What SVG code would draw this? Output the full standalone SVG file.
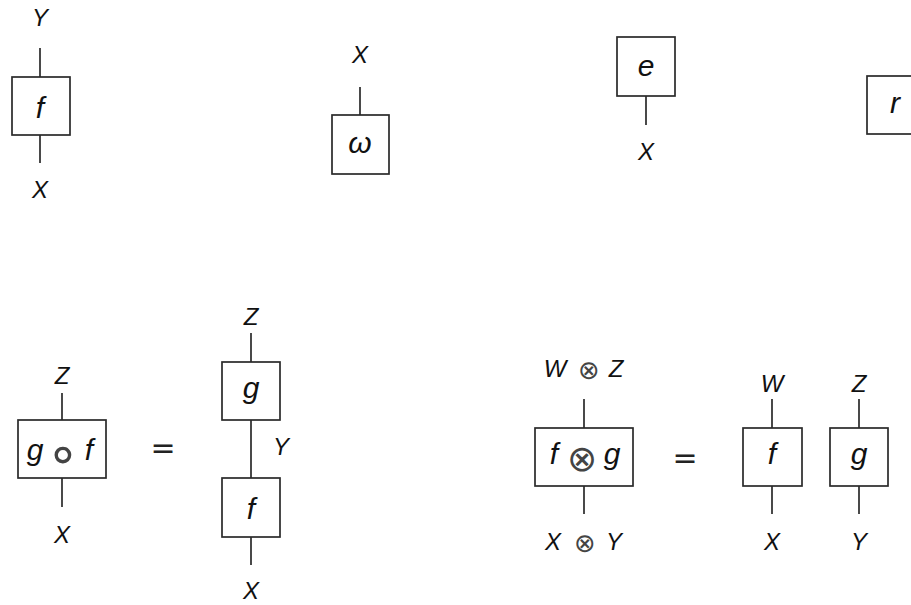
<svg xmlns="http://www.w3.org/2000/svg" width="911" height="605" viewBox="0 0 911 605">
<style>
.box{fill:#fff;stroke:#2a2a2a;stroke-width:1.7}
.w{stroke:#2a2a2a;stroke-width:1.7;fill:none}
.lb{font-family:"Liberation Sans",Arial,sans-serif;font-style:italic;font-size:24px;fill:#111;text-anchor:middle}
.bl{font-family:"Liberation Sans",Arial,sans-serif;font-style:italic;font-size:30px;fill:#111;text-anchor:middle}
.op{font-family:"DejaVu Sans",sans-serif;font-style:normal;fill:#444;text-anchor:middle}
.eq{font-family:"DejaVu Sans",sans-serif;font-size:30px;fill:#222;text-anchor:middle}
</style>
<rect width="911" height="605" fill="#fff"/>
<g id="connectors">
<line class="w" x1="40" y1="48" x2="40" y2="77"/>
<line class="w" x1="40" y1="135" x2="40" y2="163"/>
<line class="w" x1="360" y1="87" x2="360" y2="115"/>
<line class="w" x1="646" y1="96" x2="646" y2="125"/>
<line class="w" x1="62" y1="393" x2="62" y2="420"/>
<line class="w" x1="62" y1="478" x2="62" y2="507"/>
<line class="w" x1="251" y1="333" x2="251" y2="362"/>
<line class="w" x1="251" y1="420" x2="251" y2="478"/>
<line class="w" x1="251" y1="537" x2="251" y2="565"/>
<line class="w" x1="584" y1="399" x2="584" y2="428"/>
<line class="w" x1="584" y1="486" x2="584" y2="514"/>
<line class="w" x1="772" y1="399" x2="772" y2="428"/>
<line class="w" x1="772" y1="486" x2="772" y2="514"/>
<line class="w" x1="859" y1="399" x2="859" y2="428"/>
<line class="w" x1="859" y1="486" x2="859" y2="514"/>
</g>
<g id="f1">
<rect class="box" x="12" y="77" width="58" height="58"/>
<text class="bl" x="40" y="118">f</text>
<text class="lb" x="40" y="26">Y</text>
<text class="lb" x="40" y="198">X</text>
</g>
<g id="omega">
<rect class="box" x="332" y="115" width="57" height="59"/>
<text class="bl" x="360" y="153">ω</text>
<text class="lb" x="360" y="63">X</text>
</g>
<g id="e">
<rect class="box" x="617" y="37" width="58" height="59"/>
<text class="bl" x="646" y="76">e</text>
<text class="lb" x="646" y="160">X</text>
</g>
<g id="r">
<rect class="box" x="867" y="76" width="60" height="58"/>
<text class="bl" x="895" y="113">r</text>
</g>
<g id="gof">
<rect class="box" x="18" y="420" width="88" height="58"/>
<text class="bl" x="35" y="460">g</text>
<text class="op" x="63" y="472" font-size="54">∘</text>
<text class="bl" x="89" y="460">f</text>
<text class="lb" x="62" y="384">Z</text>
<text class="lb" x="62" y="543">X</text>
</g>
<text class="eq" x="163" y="458">=</text>
<g id="g2">
<rect class="box" x="222" y="362" width="58" height="58"/>
<text class="bl" x="251" y="398">g</text>
<text class="lb" x="251" y="325">Z</text>
</g>
<text class="lb" x="281" y="455">Y</text>
<g id="f2">
<rect class="box" x="222" y="478" width="58" height="59"/>
<text class="bl" x="251" y="519">f</text>
<text class="lb" x="251" y="599">X</text>
</g>
<g id="fxg">
<rect class="box" x="535" y="428" width="98" height="58"/>
<text class="bl" x="554" y="464">f</text>
<text class="op" x="582" y="471" font-size="36">⊗</text>
<text class="bl" x="612" y="464">g</text>
<text class="lb" x="555" y="377">W</text>
<text class="op" x="589" y="379" font-size="26">⊗</text>
<text class="lb" x="616" y="377">Z</text>
<text class="lb" x="553" y="550">X</text>
<text class="op" x="585" y="552" font-size="26">⊗</text>
<text class="lb" x="614" y="550">Y</text>
</g>
<text class="eq" x="685" y="468">=</text>
<g id="f3">
<rect class="box" x="743" y="428" width="59" height="58"/>
<text class="bl" x="772" y="464">f</text>
<text class="lb" x="772" y="392">W</text>
<text class="lb" x="772" y="550">X</text>
</g>
<g id="g3">
<rect class="box" x="830" y="428" width="58" height="58"/>
<text class="bl" x="859" y="464">g</text>
<text class="lb" x="859" y="392">Z</text>
<text class="lb" x="859" y="550">Y</text>
</g>
</svg>
